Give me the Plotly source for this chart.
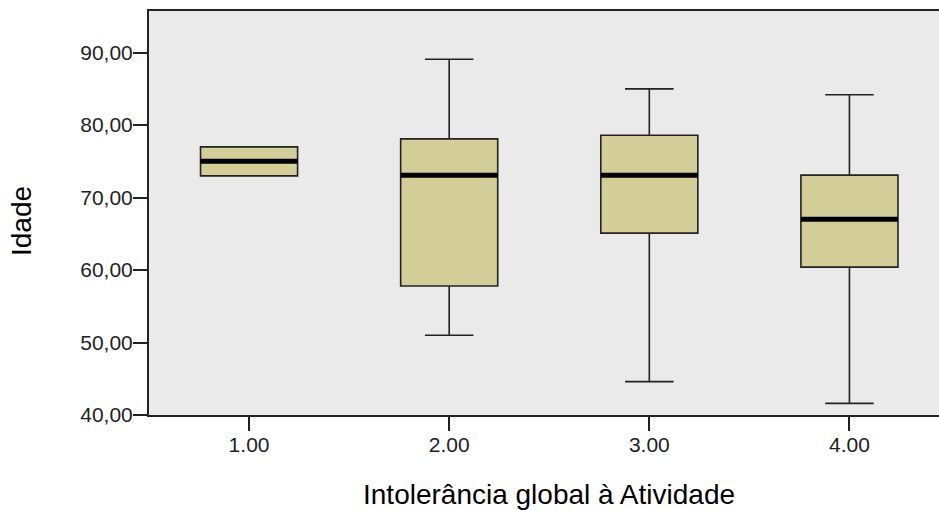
import plotly.graph_objects as go

# Data
categories = [1, 2, 3, 4]
category_labels = ["1.00", "2.00", "3.00", "4.00"]
lower_whisker = [73.0, 51.0, 44.6, 41.6]
q1_values = [73.0, 57.8, 65.1, 60.4]
median_values = [75.0, 73.1, 73.1, 67.0]
q3_values = [77.0, 78.1, 78.6, 73.1]
upper_whisker = [77.0, 89.1, 85.0, 84.2]
y_tick_values = [40, 50, 60, 70, 80, 90]
y_tick_labels = ["40,00", "50,00", "60,00", "70,00", "80,00", "90,00"]

FONT = "Liberation Sans, Arial, sans-serif"
BOX_WIDTH = 0.485
EDGE = "#222222"

fig = go.Figure()
fig.add_trace(go.Box(
    x=categories,
    q1=q1_values,
    median=median_values,
    q3=q3_values,
    lowerfence=lower_whisker,
    upperfence=upper_whisker,
    width=BOX_WIDTH,
    whiskerwidth=0.5,
    fillcolor="#D3CE97",
    line=dict(color=EDGE, width=1.6),
    boxpoints=False,
    showlegend=False,
    hoverinfo="skip",
))

# thick median bars
for c, m in zip(categories, median_values):
    fig.add_shape(type="line", xref="x", yref="y",
                  x0=c - BOX_WIDTH / 2, x1=c + BOX_WIDTH / 2, y0=m, y1=m,
                  line=dict(color="black", width=5), layer="above")

fig.update_layout(
    width=939, height=510,
    margin=dict(l=149, r=0, t=11, b=95),
    paper_bgcolor="white",
    plot_bgcolor="#EAEAEA",
    font=dict(family=FONT, color="#222222", size=21),
    xaxis=dict(
        range=[0.5, 4.4475],
        tickmode="array", tickvals=categories, ticktext=category_labels,
        ticks="outside", ticklen=14, tickwidth=1.5, tickcolor=EDGE,
        ticklabelstandoff=-4,
        showline=True, linecolor=EDGE, linewidth=2, mirror=True,
        showgrid=False, zeroline=False,
        tickfont=dict(size=21, family=FONT, color="#222222"),
    ),
    yaxis=dict(
        range=[40, 95.75],
        tickmode="array", tickvals=y_tick_values, ticktext=y_tick_labels,
        ticks="outside", ticklen=14, tickwidth=1.5, tickcolor=EDGE,
        ticklabelstandoff=-4,
        showline=True, linecolor=EDGE, linewidth=2, mirror=False,
        showgrid=False, zeroline=False,
        tickfont=dict(size=21, family=FONT, color="#222222"),
    ),
    annotations=[
        dict(text="Intolerância global à Atividade", xref="x", yref="paper",
             x=2.5, y=0, xanchor="center", yanchor="middle", yshift=-79,
             showarrow=False, font=dict(size=28, family=FONT, color="black")),
        dict(text="Idade", xref="paper", yref="paper", textangle=-90,
             x=0, y=0.5, xanchor="center", yanchor="middle",
             xshift=-128, yshift=-8,
             showarrow=False, font=dict(size=28, family=FONT, color="black")),
    ],
)

fig.write_html(
    "out.html",
    config={"displayModeBar": False},
    post_script="document.body.style.margin='0';document.body.style.overflow='hidden';",
)
